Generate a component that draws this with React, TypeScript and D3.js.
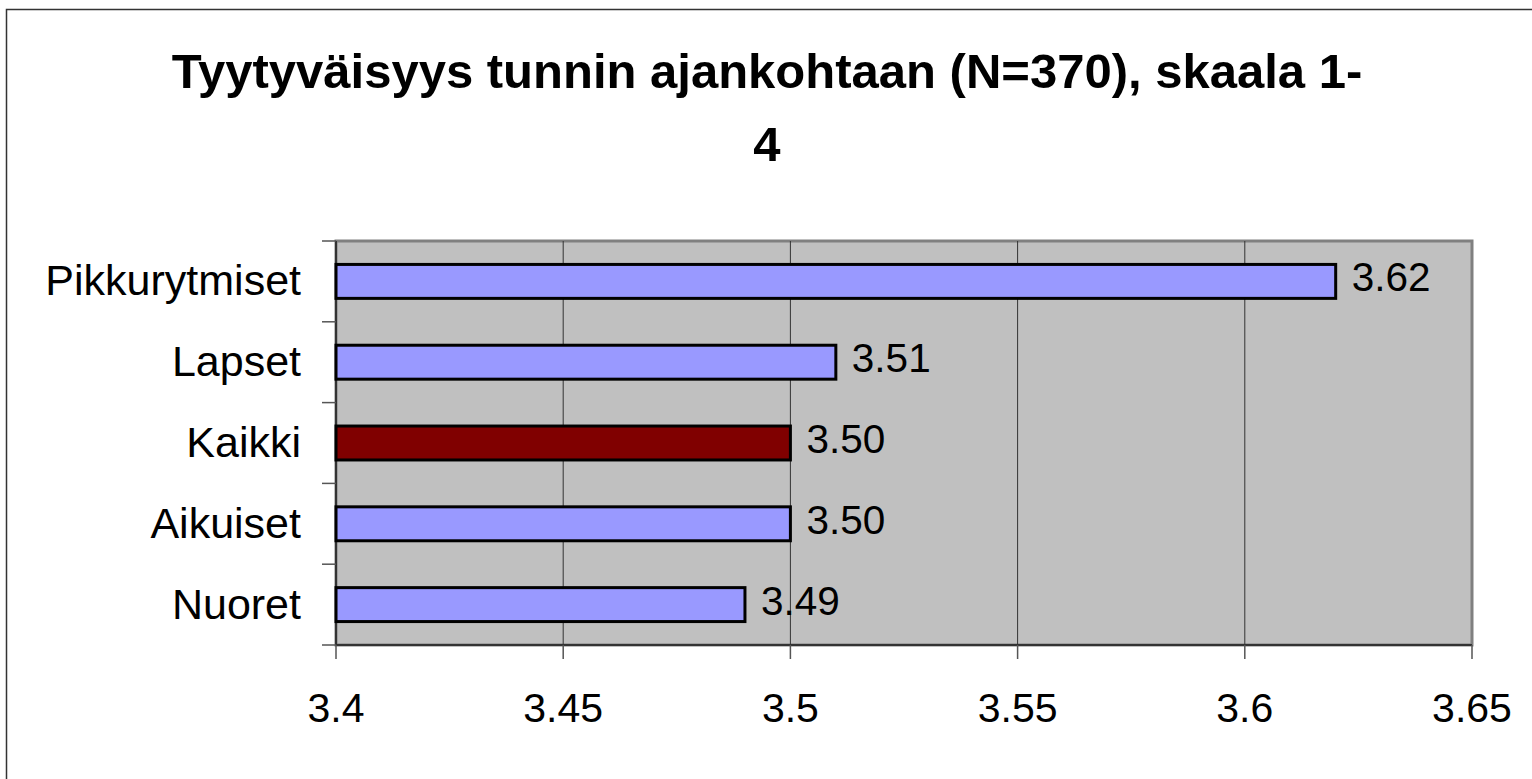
import React from "react";
import * as d3 from "d3";

const categories = ["Pikkurytmiset", "Lapset", "Kaikki", "Aikuiset", "Nuoret"];
const values = [3.62, 3.51, 3.5, 3.5, 3.49];
const highlighted = ["Kaikki"];
const xTicks = [3.4, 3.45, 3.5, 3.55, 3.6, 3.65];
const titleLines = ["Tyytyväisyys tunnin ajankohtaan (N=370), skaala 1-", "4"];

export default function App() {
  const W = 1532, H = 779;
  const left = 336, right = 1472, top = 241, bottom = 645;
  const x = d3.scaleLinear().domain([3.4, 3.65]).range([left, right]);
  const y = d3.scaleBand<string>().domain(categories).range([top, bottom]).paddingInner(0.58).paddingOuter(0.29);
  const band = d3.scaleBand<string>().domain(categories).range([top, bottom]);
  const font = "Arial, 'Liberation Sans', sans-serif";
  const yTickPos = [top, ...categories.map((c) => (band(c) as number) + band.bandwidth())];
  return (
    <div style={{ position: "absolute", left: 0, top: 0 }}>
      <svg width={W} height={H} style={{ display: "block" }}>
        <rect x={0} y={0} width={W} height={H} fill="#fff" />
        <rect x={6.5} y={9.5} width={1560} height={800} fill="none" stroke="#333" strokeWidth={1.5} />
        {titleLines.map((t, i) => (
          <text key={i} x={767} y={88 + i * 73} textAnchor="middle" fontFamily={font} fontWeight="bold" fontSize={49} fill="#000">
            {t}
          </text>
        ))}
        <rect x={left} y={top} width={right - left} height={bottom - top} fill="#C0C0C0" stroke="#808080" strokeWidth={3} />
        {xTicks.slice(1, -1).map((t) => (
          <line key={t} x1={x(t)} x2={x(t)} y1={top} y2={bottom} stroke="#333" strokeWidth={1} />
        ))}
        <line x1={left} x2={left} y1={top} y2={bottom} stroke="#333" strokeWidth={2} />
        <line x1={left} x2={right} y1={bottom} y2={bottom} stroke="#333" strokeWidth={2} />
        {yTickPos.map((p, i) => (
          <line key={i} x1={322} x2={left} y1={p} y2={p} stroke="#555" strokeWidth={1.5} />
        ))}
        {xTicks.map((t) => (
          <line key={t} x1={x(t)} x2={x(t)} y1={bottom} y2={659} stroke="#555" strokeWidth={1.5} />
        ))}
        {xTicks.map((t) => (
          <text key={t} x={x(t)} y={722} textAnchor="middle" fontFamily={font} fontSize={41} fill="#000">
            {String(t)}
          </text>
        ))}
        {categories.map((c) => {
          const cy = (band(c) as number) + band.bandwidth() / 2;
          return (
            <text key={c} x={301} y={cy + 14} textAnchor="end" fontFamily={font} fontSize={43} fill="#000">
              {c}
            </text>
          );
        })}
        {categories.map((c, i) => {
          const v = values[i];
          const by = y(c) as number;
          const h = y.bandwidth();
          const cy = (band(c) as number) + band.bandwidth() / 2;
          return (
            <g key={c}>
              <rect x={x(3.4)} y={by} width={x(v) - x(3.4)} height={h} fill={highlighted.includes(c) ? "#800000" : "#9999FF"} stroke="#000" strokeWidth={3} />
              <text x={x(v) + 16} y={cy + 10} fontFamily={font} fontSize={40.5} fill="#000">
                {v.toFixed(2)}
              </text>
            </g>
          );
        })}
      </svg>
    </div>
  );
}
